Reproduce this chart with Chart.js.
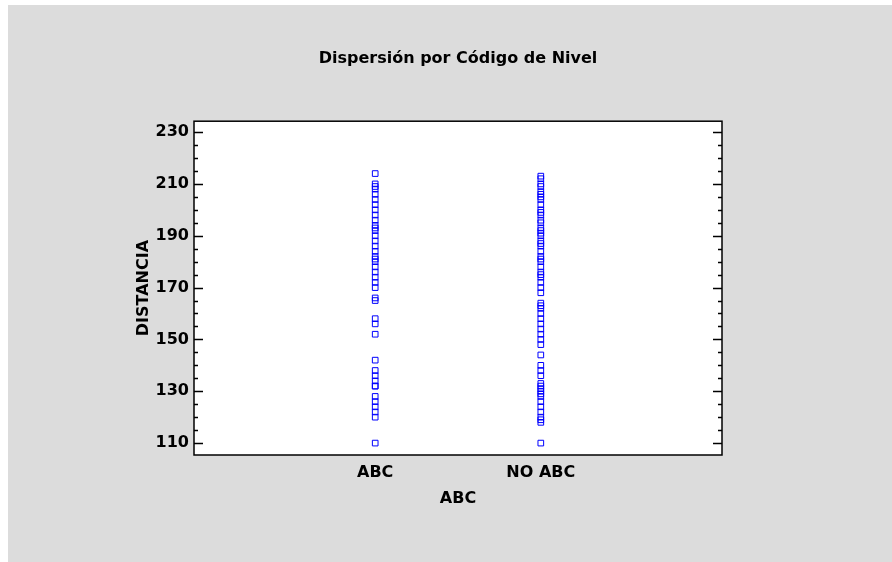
<!DOCTYPE html>
<html>
<head>
<meta charset="utf-8">
<script src="https://cdn.jsdelivr.net/npm/chart.js@4/dist/chart.umd.min.js"></script>
<style>
  html, body { margin: 0; padding: 0; background: #ffffff; }
  #wrap { width: 892px; height: 562px; position: relative; }
</style>
</head>
<body>
<div id="wrap"><canvas id="c" width="892" height="562"></canvas></div>
<script>
// Chart text
const chartTitle = 'Dispersión por Código de Nivel';
const xAxisTitle = 'ABC';
const yAxisTitle = 'DISTANCIA';

// Category groups on the horizontal axis
const categories = ['ABC', 'NO ABC'];

// DISTANCIA observations for each group
const abcValues = [214, 210, 209, 208, 206, 204, 202, 200, 198, 196, 194, 193, 192, 190, 188,
  186, 184, 182, 181, 180, 178, 176, 174, 172, 170, 166, 165, 158, 156, 152,
  142, 138, 136, 134, 132, 132, 128, 126, 124, 122, 120, 110];
const noAbcValues = [213, 212, 210, 209, 207, 206, 205, 204, 202, 200, 199, 198, 196, 195, 193,
  192, 191, 190, 188, 187, 186, 184, 182, 181, 180, 178, 176, 175, 174, 172,
  170, 168, 164, 163, 162, 160, 158, 156, 154, 152, 150, 148, 144, 140, 138,
  136, 133, 132, 131, 130, 129, 128, 126, 124, 122, 120, 119, 118, 110];

// Vertical axis ticks: labelled majors and the minor marks between them
const yMajorTicks = [110, 130, 150, 170, 190, 210, 230];
const yAllTicks = [110, 115, 120, 125, 130, 135, 140, 145, 150, 155, 160, 165, 170, 175,
  180, 185, 190, 195, 200, 205, 210, 215, 220, 225, 230];

const FONT = { family: "'DejaVu Sans', sans-serif", weight: 'bold', size: 16 };
const MARK = '#0000ff';

const groupSeries = [abcValues, noAbcValues];
const datasets = groupSeries.map((vals, i) => ({
  label: categories[i],
  data: vals.map(v => ({ x: i + 1, y: v })),
  pointStyle: 'rect',
  pointRadius: 4,
  pointBorderWidth: 1,
  pointBorderColor: MARK,
  pointBackgroundColor: 'rgba(0,0,0,0)',
  showLine: false
}));

// Gray panel, white plotting area, frame and inward tick marks
const framePlugin = {
  id: 'frame',
  beforeDraw(chart) {
    const { ctx, chartArea: a } = chart;
    ctx.save();
    ctx.fillStyle = '#ffffff';
    ctx.fillRect(0, 0, chart.width, chart.height);
    ctx.fillStyle = '#dcdcdc';
    ctx.fillRect(8, 5, chart.width - 8, chart.height - 5);
    ctx.fillStyle = '#ffffff';
    ctx.fillRect(a.left, a.top, a.right - a.left, a.bottom - a.top);
    ctx.restore();
  },
  afterDraw(chart) {
    const { ctx, chartArea: a } = chart;
    const ys = chart.scales.y;
    ctx.save();
    ctx.strokeStyle = '#000000';
    ctx.lineWidth = 1.5;
    ctx.strokeRect(a.left, a.top, a.right - a.left, a.bottom - a.top);
    ctx.beginPath();
    ys.ticks.forEach(t => {
      const py = Math.round(ys.getPixelForValue(t.value)) + 0.5;
      const len = yMajorTicks.includes(t.value) ? 9 : 4;
      ctx.moveTo(a.left, py); ctx.lineTo(a.left + len, py);
      ctx.moveTo(a.right, py); ctx.lineTo(a.right - len, py);
    });
    ctx.stroke();
    ctx.restore();
  }
};

new Chart(document.getElementById('c'), {
  type: 'scatter',
  data: { datasets },
  plugins: [framePlugin],
  options: {
    responsive: false,
    animation: false,
    devicePixelRatio: 1,
    layout: { padding: { left: 134, right: 170, top: 0, bottom: 54 } },
    plugins: {
      legend: { display: false },
      tooltip: { enabled: false },
      title: {
        display: true,
        text: chartTitle,
        fullSize: false,
        color: '#000000',
        font: FONT,
        padding: { top: 49, bottom: 53 }
      }
    },
    scales: {
      x: {
        type: 'linear',
        position: 'bottom',
        min: -0.094,
        max: 3.094,
        afterBuildTicks: s => { s.ticks = categories.map((c, i) => ({ value: i + 1 })); },
        afterFit: s => { s.height = 53; },
        ticks: {
          autoSkip: false,
          maxRotation: 0,
          padding: 8,
          color: '#000000',
          font: FONT,
          callback: v => categories[v - 1] ?? ''
        },
        grid: { display: false, drawTicks: false },
        border: { display: false },
        title: { display: true, text: xAxisTitle, color: '#000000', font: FONT, padding: { top: 0, bottom: 0 } }
      },
      y: {
        type: 'linear',
        min: 105.4,
        max: 234.2,
        afterBuildTicks: s => { s.ticks = yAllTicks.map(v => ({ value: v })); },
        afterFit: s => { s.width = 60; },
        ticks: {
          autoSkip: false,
          padding: 5,
          color: '#000000',
          font: FONT,
          callback: v => yMajorTicks.includes(v) ? String(v) : ''
        },
        grid: { display: false, drawTicks: false },
        border: { display: false },
        title: { display: true, text: yAxisTitle, color: '#000000', font: FONT, padding: { top: 0, bottom: 0 } }
      }
    }
  }
});
</script>
</body>
</html>
